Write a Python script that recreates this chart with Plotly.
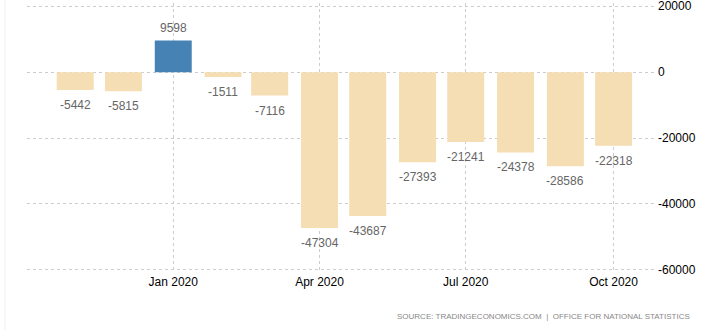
import plotly.graph_objects as go

months = ["2019-11-01", "2019-12-01", "2020-01-01", "2020-02-01", "2020-03-01", "2020-04-01",
          "2020-05-01", "2020-06-01", "2020-07-01", "2020-08-01", "2020-09-01", "2020-10-01"]
values = [-5442, -5815, 9598, -1511, -7116, -47304, -43687, -27393, -21241, -24378, -28586, -22318]
highlight_month = "2020-01-01"
x_ticks = ["2020-01-01", "2020-04-01", "2020-07-01", "2020-10-01"]
x_tick_labels = ["Jan 2020", "Apr 2020", "Jul 2020", "Oct 2020"]
y_ticks = [20000, 0, -20000, -40000, -60000]
y_tick_labels = ["20000", "0", "-20000", "-40000", "-60000"]

colors = ["#4682B4" if m == highlight_month else "#F5DEB3" for m in months]
FONT = "Liberation Sans, Arial, sans-serif"

fig = go.Figure(go.Bar(
    x=months, y=values,
    marker=dict(color=colors, line=dict(width=0)),
    width=23 * 86400000,
    hoverinfo="x+y",
))

annotations = []
for m, v in zip(months, values):
    annotations.append(dict(
        x=m, y=v, xref="x", yref="y", text=str(v), showarrow=False,
        yanchor="middle", yshift=(13 if v > 0 else -15),
        font=dict(family=FONT, size=12, color="#666666"),
    ))
annotations.append(dict(
    text="SOURCE: TRADINGECONOMICS.COM  |  OFFICE FOR NATIONAL STATISTICS",
    xref="paper", yref="paper", x=1.055, y=-0.16, xanchor="right", yanchor="middle",
    showarrow=False,
    font=dict(family=FONT, size=8, color="#888888"),
))

fig.update_layout(
    width=712, height=330,
    margin=dict(l=27, r=55, t=3, b=57),
    paper_bgcolor="white", plot_bgcolor="white",
    showlegend=False,
    xaxis=dict(
        type="date",
        range=["2019-10-02", "2020-10-28"],
        tickvals=x_ticks, ticktext=x_tick_labels,
        automargin=False,
        showgrid=True, gridcolor="#cccccc", griddash="dot", gridwidth=1,
        zeroline=False, showline=False, ticks="",
        tickfont=dict(family=FONT, size=12, color="#000000"),
    ),
    yaxis=dict(
        side="right",
        range=[-61000, 21000],
        tickvals=y_ticks, ticktext=y_tick_labels,
        ticklabeloverflow="allow",
        automargin=False,
        showgrid=True, gridcolor="#cccccc", griddash="dot", gridwidth=1,
        zeroline=False, showline=False, ticks="",
        tickfont=dict(family=FONT, size=12, color="#000000"),
    ),
    annotations=annotations,
    shapes=[
        dict(type="line", xref="paper", yref="paper", x0=-0.035, x1=-0.035, y0=-0.22, y1=1.03,
             line=dict(color="#eeeeee", width=1)),
        dict(type="line", xref="paper", yref="paper", x0=-0.035, x1=1.09, y0=-0.215, y1=-0.215,
             line=dict(color="#eeeeee", width=1)),
    ],
)

fig.write_html("out.html")
